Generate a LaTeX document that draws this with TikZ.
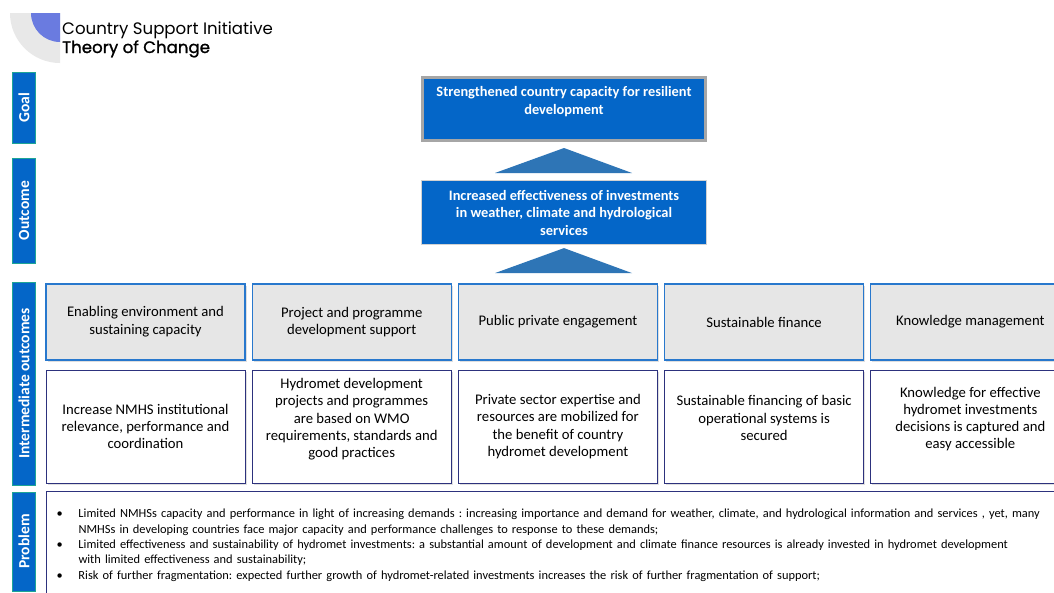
\documentclass[tikz,border=0pt]{standalone}
\usepackage{fontspec}
\setmainfont{Carlito}
\newfontfamily\titlefont{Poppins}
\newfontfamily\titlefontb{Poppins}[FakeBold=1.2]
\usetikzlibrary{positioning,shadows}
\definecolor{wmoblue}{RGB}{4,102,200}
\definecolor{arrowblue}{RGB}{46,117,182}
\definecolor{barteal}{RGB}{30,165,150}
\definecolor{headline}{RGB}{40,120,205}
\definecolor{navy}{RGB}{45,50,125}
\definecolor{boxgray}{RGB}{230,230,230}
\definecolor{logogray}{RGB}{232,232,232}
\definecolor{logoblue}{RGB}{106,123,224}
\frenchspacing
\begin{document}
\begin{tikzpicture}[x=1pt,y=-1pt,
  bar/.style={draw=barteal,fill=wmoblue,line width=0.8pt,rotate=90,
    minimum height=23pt,inner sep=0pt,text=white,
    font=\fontsize{15.5}{17}\selectfont\bfseries},
  bluebox/.style={fill=wmoblue,align=center,text=white,inner sep=0pt,
    font=\fontsize{14.4}{17.5}\selectfont\bfseries},
  head/.style={draw=headline,fill=boxgray,line width=1.2pt,minimum width=199pt,
    minimum height=76pt,align=center,inner sep=0pt,
    font=\fontsize{14.7}{17.7}\selectfont,
    drop shadow={opacity=0.25,shadow xshift=1.5pt,shadow yshift=-1.5pt}},
  result/.style={draw=navy,fill=white,line width=1pt,minimum width=199pt,
    minimum height=113pt,align=center,inner sep=0pt,
    font=\fontsize{14.7}{17.2}\selectfont,
    drop shadow={opacity=0.25,shadow xshift=1.5pt,shadow yshift=-1.5pt}}]
\fill[white] (0,0) rectangle (1054,592);
\useasboundingbox (0,0) rectangle (1054,592);
% logo and title
\fill[logogray] (60,13) -- (10,13) arc[start angle=180,end angle=270,radius=50pt] -- cycle;
\fill[logoblue] (60,13) -- (31,13) arc[start angle=180,end angle=270,radius=29pt] -- cycle;
\node[anchor=base west,inner sep=0pt,font=\titlefont\fontsize{16.6}{18}\selectfont] (title) at (62,34) {Country Support Initiative};
\node[anchor=base west,inner sep=0pt,font=\titlefontb\fontsize{16.6}{18}\selectfont] (subtitle) at (62,53) {Theory of Change};
% row labels
\node[bar,minimum width=71pt] (lgoal) at (24,107.5) {Goal};
\node[bar,minimum width=105pt] (lout) at (24,210.5) {Outcome};
\node[bar,minimum width=203pt] (lint) at (24,383.5) {Intermediate outcomes};
\node[bar,minimum width=99pt] (lprob) at (24,541.5) {Problem};
% goal and outcome
\node[bluebox,draw=gray!70,line width=3pt,minimum width=283pt,minimum height=63pt] (goal) at (564,109)
  {Strengthened country capacity for resilient\\development\\~};
\node[bluebox,draw=gray!35,line width=1.2pt,minimum width=285pt,minimum height=64pt] (outcome) at (564,212.5)
  {Increased effectiveness of investments\\in weather, climate and hydrological\\services};
\fill[arrowblue] ([yshift=-6pt]goal.south) -- ([xshift=68pt,yshift=-31pt]goal.south)
  -- ([xshift=-69pt,yshift=-31pt]goal.south) -- cycle;
\fill[arrowblue] ([yshift=-3pt]outcome.south) -- ([xshift=68pt,yshift=-28pt]outcome.south)
  -- ([xshift=-69pt,yshift=-28pt]outcome.south) -- cycle;
% intermediate outcomes
\node[head] (h1) at (145.5,322) {Enabling environment and\\sustaining capacity};
\node[head,right=6pt of h1] (h2) {Project and programme\\development support};
\node[head,right=6pt of h2] (h3) {Public private engagement};
\node[head,right=6pt of h3] (h4) {Sustainable finance};
\node[head,right=6pt of h4] (h5) {Knowledge management};
\node[result,below=9pt of h1] (r1) {Increase NMHS institutional\\relevance, performance and\\coordination};
\node[result,below=9pt of h2] (r2) {Hydromet development\\projects and programmes\\are based on WMO\\requirements, standards and\\good practices\\~};
\node[result,below=9pt of h3] (r3) {Private sector expertise and\\resources are mobilized for\\the benefit of country\\hydromet development};
\node[result,below=9pt of h4] (r4) {Sustainable financing of basic\\operational systems is\\secured\\~};
\node[result,below=9pt of h5] (r5) {Knowledge for effective\\hydromet investments\\decisions is captured and\\easy accessible\\~};
% problem
\node[draw=navy,line width=1pt,anchor=north west,minimum width=1020pt,minimum height=108pt,
  text width=1000pt,inner xsep=10pt,inner ysep=0pt,align=left,
  font=\fontsize{12.4}{15.3}\selectfont] (prob) at (46,491)
  {\begin{tabular}{@{}p{22pt}@{}l@{}}
  \textbullet & Limited NMHSs capacity and performance in light of increasing demands : increasing importance and demand for  weather, climate, and hydrological information and services , yet, many\\
   & NMHSs in developing countries face major capacity  and performance challenges to response to these demands;\\
  \textbullet & Limited effectiveness and sustainability of hydromet investments:  a substantial amount of development and climate finance  resources is already invested in hydromet development\\
   & with limited effectiveness  and sustainability;\\
  \textbullet & Risk of further fragmentation: expected further growth of hydromet-related investments  increases the risk of further fragmentation  of support;
  \end{tabular}};
\end{tikzpicture}
\end{document}
